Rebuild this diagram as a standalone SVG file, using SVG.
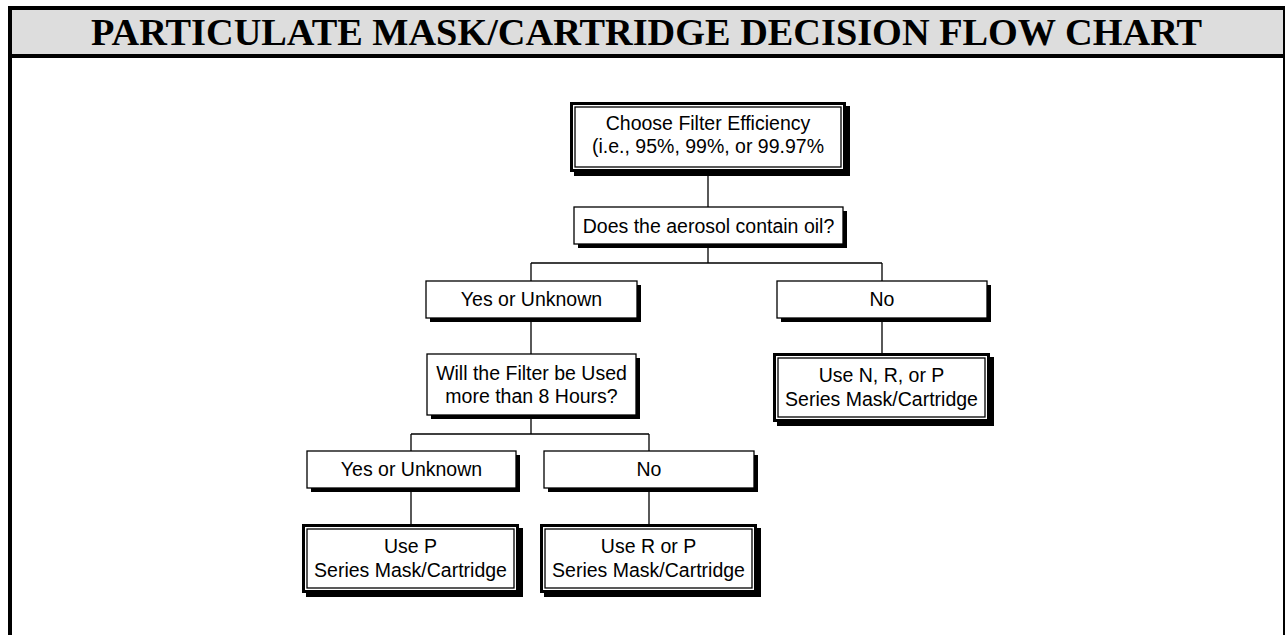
<svg xmlns="http://www.w3.org/2000/svg" width="1285" height="635" viewBox="0 0 1285 635">
<defs>
<style>
.frame{fill:none;stroke:#000;stroke-width:4}
.title{font-family:"Liberation Serif","Times New Roman",serif;font-weight:bold;font-size:37px;fill:#000}
.shadow{fill:#000}
.box{fill:#fff;stroke:#000;stroke-width:1.3}
.outer{fill:#fff;stroke:#000;stroke-width:3}
.inner{fill:none;stroke:#000;stroke-width:1.3}
.lbl{font-family:"Liberation Sans",Arial,sans-serif;font-size:19.5px;fill:#000;text-anchor:middle}
.conn{fill:none;stroke:#000;stroke-width:1.3}
</style>
</defs>
<rect x="0" y="0" width="1285" height="635" fill="#fff"/>
<rect x="10" y="8" width="1275" height="48" fill="#dddddd"/>
<rect class="frame" x="10" y="8" width="1275" height="640"/>
<line x1="8" y1="56" x2="1285" y2="56" stroke="#000" stroke-width="4"/>
<text class="title" x="646.5" y="45" text-anchor="middle" textLength="1111" lengthAdjust="spacingAndGlyphs">PARTICULATE MASK/CARTRIDGE DECISION FLOW CHART</text>

<g id="connectors">
<path class="conn" d="M708 172V207M708 244V263M531 263H882M531 263V281M882 263V281M531 318V354M882 318V353M531 415V434M411 434H649M411 434V451M649 434V451M411 488V524M649 488V524"/>
</g>

<g id="choose">
<rect class="shadow" x="574" y="106" width="276" height="70"/>
<rect class="outer" x="571.5" y="103.5" width="273" height="67"/>
<rect class="inner" x="575" y="107" width="266" height="60"/>
<text class="lbl" x="708" y="130">Choose Filter Efficiency</text>
<text class="lbl" x="708" y="153">(i.e., 95%, 99%, or 99.97%</text>
</g>

<g id="oil">
<rect class="shadow" x="578" y="211" width="269" height="37"/>
<rect class="box" x="574" y="207" width="269" height="37"/>
<text class="lbl" x="708.5" y="232.5">Does the aerosol contain oil?</text>
</g>

<g id="yes1">
<rect class="shadow" x="430" y="285" width="211" height="37"/>
<rect class="box" x="426" y="281" width="211" height="37"/>
<text class="lbl" x="531.5" y="306">Yes or Unknown</text>
</g>

<g id="no1">
<rect class="shadow" x="781" y="285" width="210" height="37"/>
<rect class="box" x="777" y="281" width="210" height="37"/>
<text class="lbl" x="882" y="306">No</text>
</g>

<g id="hours">
<rect class="shadow" x="431" y="358" width="209" height="61"/>
<rect class="box" x="427" y="354" width="209" height="61"/>
<text class="lbl" x="531.5" y="380">Will the Filter be Used</text>
<text class="lbl" x="531.5" y="403">more than 8 Hours?</text>
</g>

<g id="yes2">
<rect class="shadow" x="311" y="455" width="209" height="37"/>
<rect class="box" x="307" y="451" width="209" height="37"/>
<text class="lbl" x="411.5" y="476">Yes or Unknown</text>
</g>

<g id="no2">
<rect class="shadow" x="548" y="455" width="210" height="37"/>
<rect class="box" x="544" y="451" width="210" height="37"/>
<text class="lbl" x="649" y="476">No</text>
</g>

<g id="useP">
<rect class="shadow" x="306" y="528" width="217" height="69"/>
<rect class="outer" x="303.5" y="525.5" width="214" height="66"/>
<rect class="inner" x="307" y="529" width="207" height="59"/>
<text class="lbl" x="410.5" y="553">Use P</text>
<text class="lbl" x="410.5" y="577">Series Mask/Cartridge</text>
</g>

<g id="useRP">
<rect class="shadow" x="544" y="528" width="217" height="69"/>
<rect class="outer" x="541.5" y="525.5" width="214" height="66"/>
<rect class="inner" x="545" y="529" width="207" height="59"/>
<text class="lbl" x="648.5" y="553">Use R or P</text>
<text class="lbl" x="648.5" y="577">Series Mask/Cartridge</text>
</g>

<g id="useNRP">
<rect class="shadow" x="777" y="357" width="217" height="69"/>
<rect class="outer" x="774.5" y="354.5" width="214" height="66"/>
<rect class="inner" x="778" y="358" width="207" height="59"/>
<text class="lbl" x="881.5" y="382">Use N, R, or P</text>
<text class="lbl" x="881.5" y="406">Series Mask/Cartridge</text>
</g>
</svg>
